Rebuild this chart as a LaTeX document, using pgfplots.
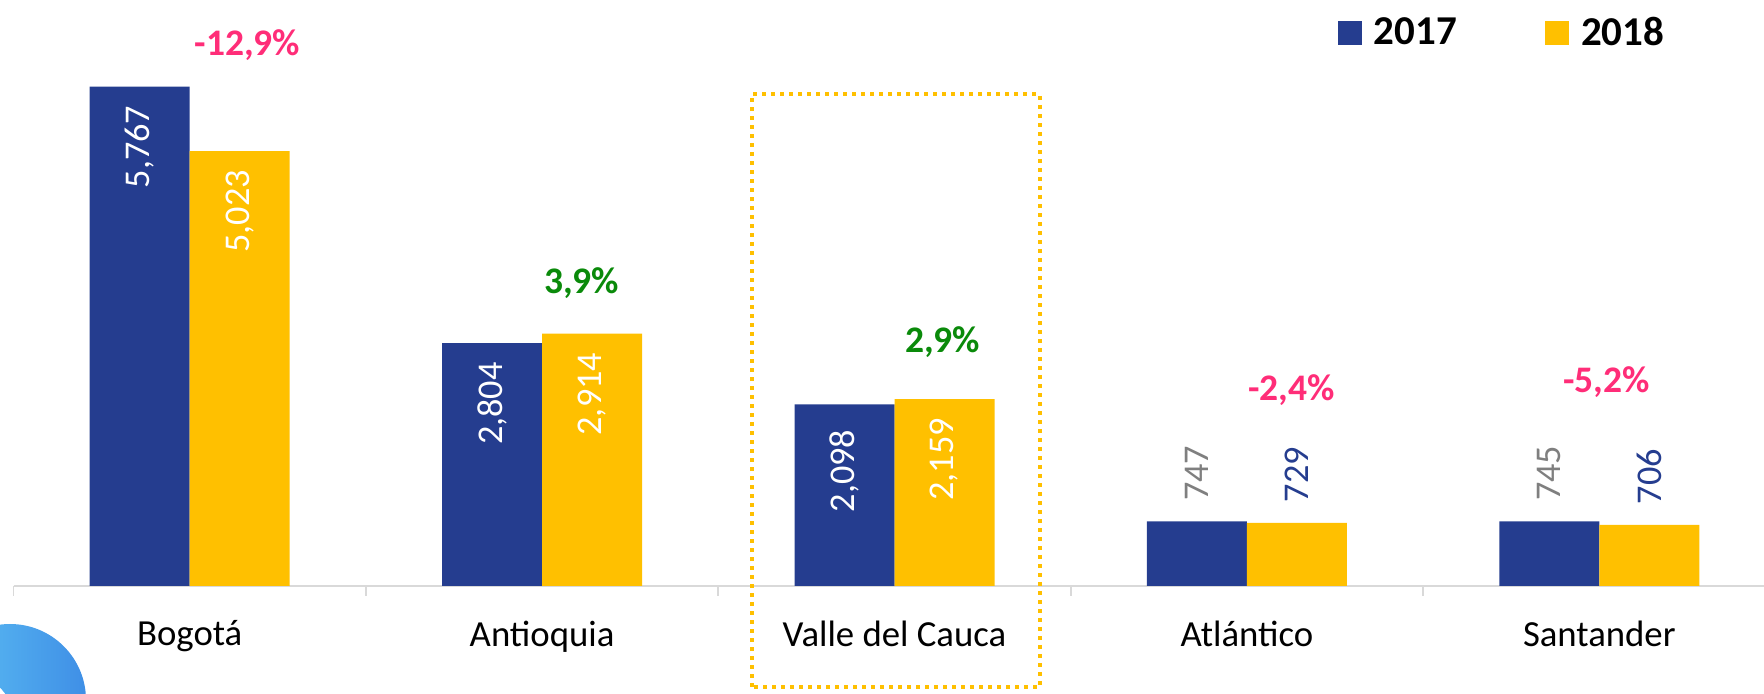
\documentclass[border=0pt]{standalone}
\usepackage{fontspec}
\setmainfont{Carlito}
\usepackage{pgfplots}
\pgfplotsset{compat=1.18}
\definecolor{b17}{HTML}{253D8F}
\definecolor{y18}{HTML}{FFC000}
\definecolor{neg}{HTML}{FF2D78}
\definecolor{pos}{HTML}{0A8A0A}
\definecolor{axgray}{HTML}{D9D9D9}
\definecolor{lblgray}{HTML}{7F7F7F}
\definecolor{logoA}{HTML}{5FC3F5}
\definecolor{logoB}{HTML}{3F8FE6}
\begin{document}
\begin{tikzpicture}
\useasboundingbox (0,0) rectangle (705.6pt,277.6pt);
\clip (0,0) rectangle (705.6pt,277.6pt);
% logo fragment
\path[left color=logoA, right color=logoB, even odd rule] (4pt,-2.4pt) circle (30.4pt) (-8pt,-6.4pt) circle (12pt);
\begin{axis}[
  at={(5.4pt,43.2pt)}, anchor=south west,
  scale only axis, width=704.8pt, height=234.4pt,
  xmin=-0.5, xmax=4.5, ymin=0, ymax=6767,
  axis x line*=bottom, axis y line=none,
  x axis line style={draw=axgray, line width=0.7pt, -},
  ybar=0pt, bar width=40pt,
  xtick={0,1,2,3,4},
  xticklabels={Bogotá,Antioquia,Valle del Cauca,Atlántico,Santander},
  major tick length=0pt, tick align=outside,
  xticklabel style={font=\fontsize{14.7}{16}\selectfont, anchor=north, inner sep=0pt, yshift=-13.7pt},
  extra x ticks={-0.5,0.5,1.5,2.5,3.5},
  extra x tick labels={},
  extra x tick style={major tick length=4pt, tick style={draw=axgray, line width=0.7pt}},
  legend columns=2,
  legend style={at={(axis description cs:0.7512,0.9437)}, anchor=west, draw=none, fill=none, inner sep=0pt,
    font=\bfseries\fontsize{16.4}{18}\selectfont,
    nodes={inner xsep=2pt, inner ysep=0pt},
    /tikz/every odd column/.append style={column sep=2.8pt},
    /tikz/every even column/.append style={column sep=33.3pt}},
  legend image code/.code={\path[#1, draw=none] (0pt,-4.8pt) rectangle (9.6pt,4.8pt);},
  clip=false,
]
\addplot[fill=b17, draw=none] coordinates {(0,5767) (1,2804) (2,2098) (3,747) (4,745)};
\addplot[fill=y18, draw=none] coordinates {(0,5023) (1,2914) (2,2159) (3,729) (4,706)};
\legend{2017,2018}
% value labels
\tikzset{vl/.style={rotate=90, inner sep=0pt, font=\fontsize{14.5}{16}\selectfont}}
\node[vl, anchor=east, text=white] at ([xshift=-20pt, yshift=-7.5pt]axis cs:0,5767) {5,767};
\node[vl, anchor=east, text=white] at ([xshift=20pt, yshift=-7.5pt]axis cs:0,5023) {5,023};
\node[vl, anchor=east, text=white] at ([xshift=-20pt, yshift=-7.5pt]axis cs:1,2804) {2,804};
\node[vl, anchor=east, text=white] at ([xshift=20pt, yshift=-7.5pt]axis cs:1,2914) {2,914};
\node[vl, anchor=east, text=white] at ([xshift=-20pt, yshift=-10pt]axis cs:2,2098) {2,098};
\node[vl, anchor=east, text=white] at ([xshift=20pt, yshift=-7.5pt]axis cs:2,2159) {2,159};
\node[vl, anchor=west, text=lblgray] at ([xshift=-20pt, yshift=8pt]axis cs:3,747) {747};
\node[vl, anchor=west, text=b17] at ([xshift=20pt, yshift=8pt]axis cs:3,729) {729};
\node[vl, anchor=west, text=lblgray] at ([xshift=-20pt, yshift=8pt]axis cs:4,745) {745};
\node[vl, anchor=west, text=b17] at ([xshift=20pt, yshift=8pt]axis cs:4,706) {706};
% percentage changes
\tikzset{pc/.style={font=\bfseries\fontsize{15}{17}\selectfont, inner sep=0pt}}
\node[pc, text=neg] at (axis cs:0.164,6247) {-12,9\%};
\node[pc, text=pos] at (axis cs:1.112,3493) {3,9\%};
\node[pc, text=pos] at (axis cs:2.137,2818) {2,9\%};
\node[pc, text=neg] at (axis cs:3.127,2259) {-2,4\%};
\node[pc, text=neg] at (axis cs:4.020,2350) {-5,2\%};
\end{axis}
% highlight box
\draw[y18, line width=1.6pt, dash pattern=on 1.6pt off 2.0pt] (300.6pt,2.8pt) rectangle (415.8pt,239.8pt);
\end{tikzpicture}
\end{document}
